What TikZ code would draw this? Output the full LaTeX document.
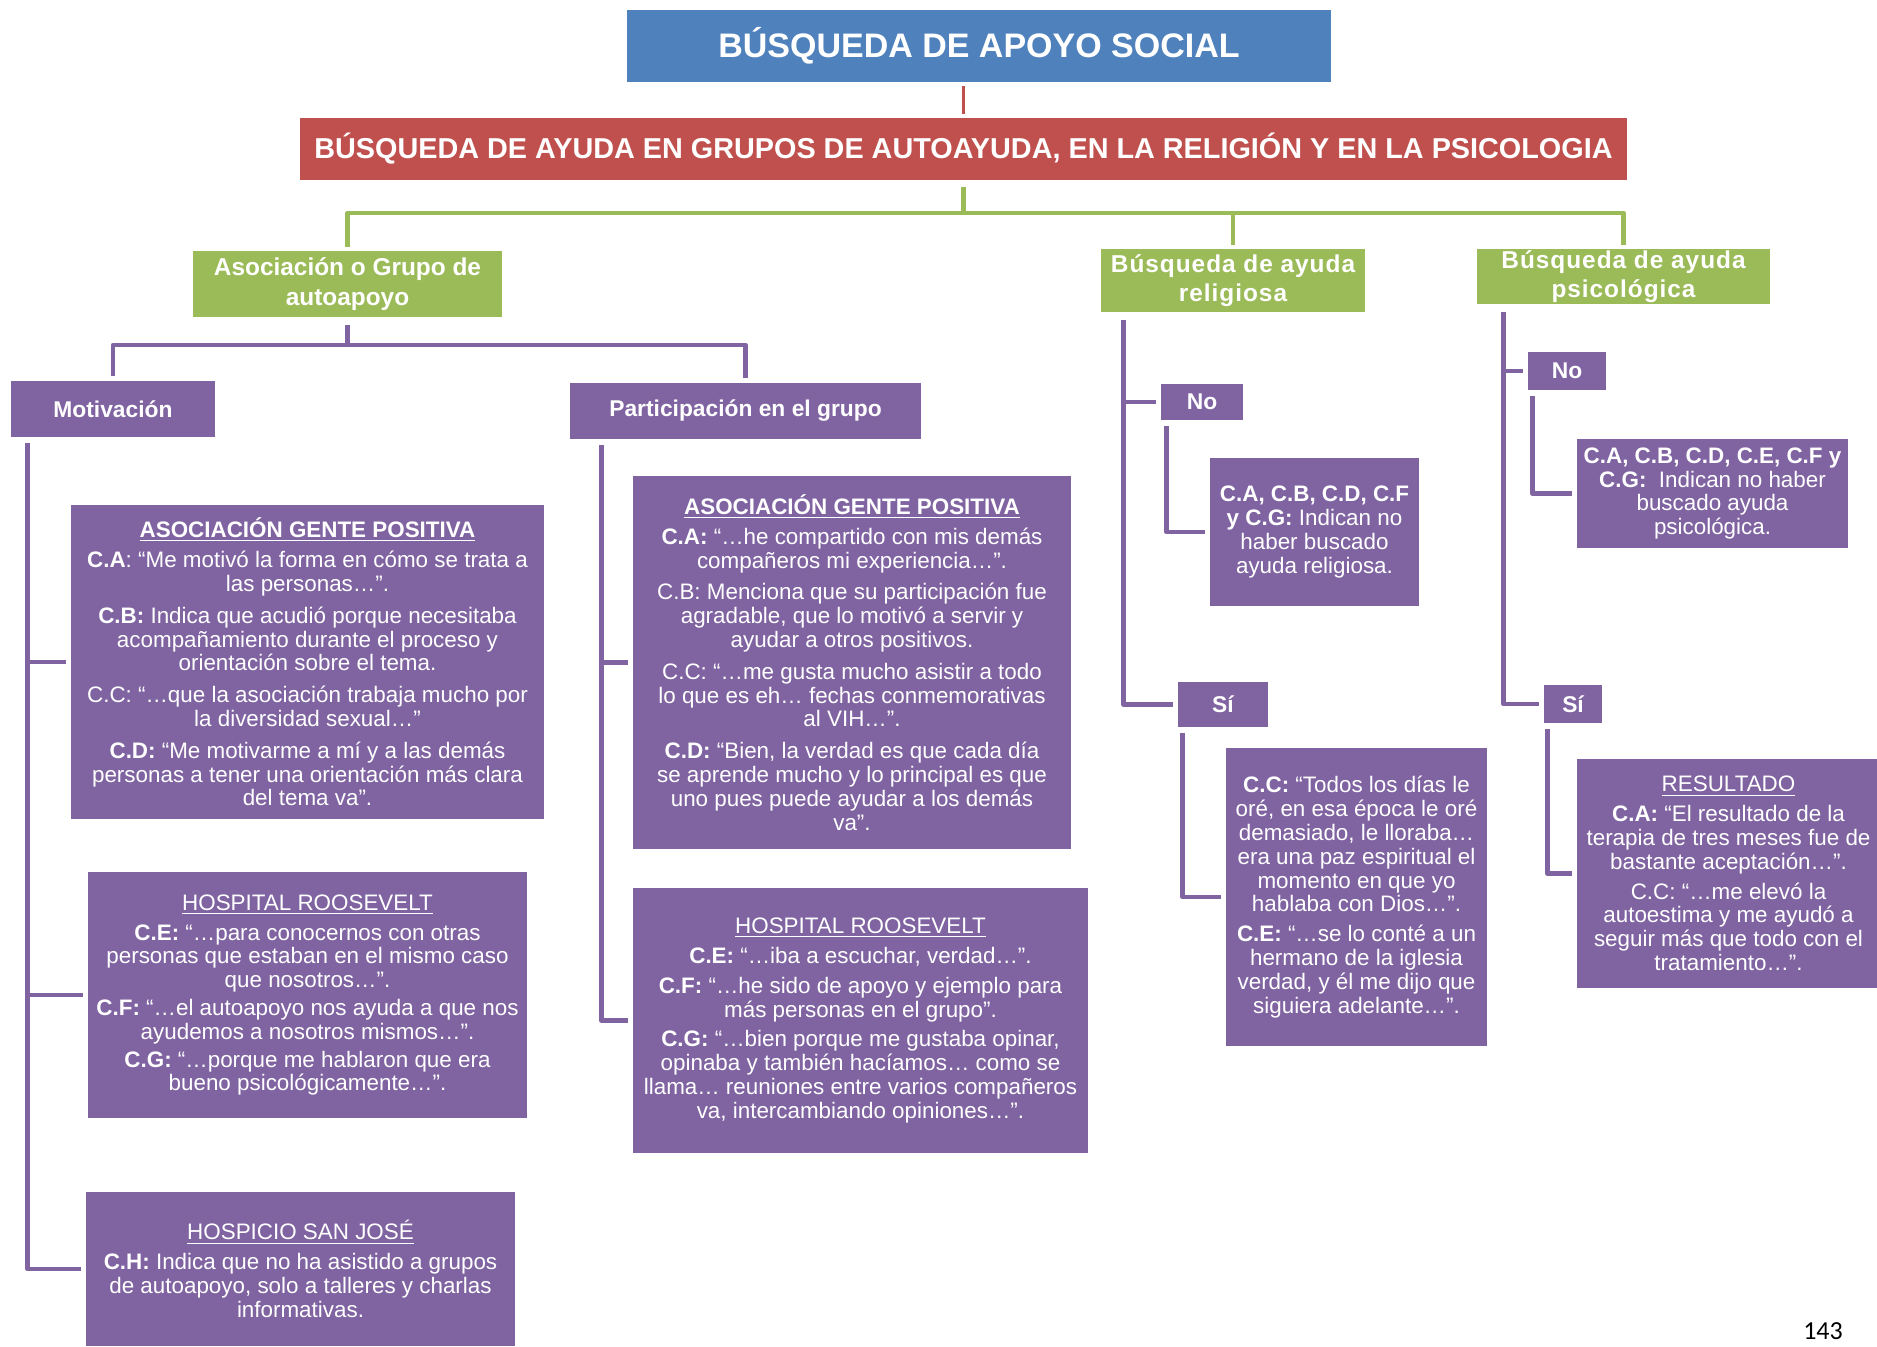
\documentclass[tikz,border=0pt]{standalone}
\usepackage{fontspec}
\setmainfont{Liberation Sans}
\newfontfamily\pagefont{Carlito}
\newfontfamily\spacedfont{Liberation Sans}[LetterSpace=4]
\usetikzlibrary{calc}

\definecolor{cblue}{HTML}{4F81BD}
\definecolor{cred}{HTML}{C0504D}
\definecolor{cgreen}{HTML}{9BBB59}
\definecolor{cpurple}{HTML}{8064A2}

\newcommand\bodyfont{\fontsize{11.2}{11.9}\selectfont}

\begin{document}
\begin{tikzpicture}[x=0.5pt,y=-0.5pt,
  base/.style={rectangle, inner sep=0pt, text=white, align=center},
  sized/.style 2 args={minimum width=#1*0.5pt, minimum height=#2*0.5pt},
  titlebox/.style={base, fill=cblue, font=\fontsize{17}{20}\selectfont\bfseries},
  redbox/.style={base, fill=cred, font=\fontsize{14.4}{17}\selectfont\bfseries},
  greenbox/.style={base, fill=cgreen, font=\fontsize{12.2}{14.8}\selectfont\bfseries},
  headbox/.style={base, fill=cpurple, font=\fontsize{11.4}{13}\selectfont\bfseries},
  txtbox/.style={base, fill=cpurple, font=\bodyfont},
  pline/.style={draw=cpurple, line width=2.4pt, line join=round, shorten >=2.5pt},
  gline/.style={draw=cgreen, line width=2.3pt, line join=round},
  rline/.style={draw=cred, line width=1.4pt},
]
\useasboundingbox (0,0) rectangle (1877,1346);

% top levels
\node[titlebox, sized={704}{72}] (title) at (979,46) {BÚSQUEDA DE APOYO SOCIAL};
\node[redbox, sized={1327}{62}] (red) at (963.5,149)
  {BÚSQUEDA DE AYUDA EN GRUPOS DE AUTOAYUDA, EN LA RELIGIÓN Y EN LA PSICOLOGIA};

\node[greenbox, sized={309}{66}] (g1) at (347.5,284) {Asociación o Grupo de\\autoapoyo};
\node[greenbox, sized={264}{63}] (g2) at (1233,280.5) {\spacedfont Búsqueda de ayuda\\\spacedfont religiosa};
\node[greenbox, sized={293}{55}] (g3) at (1623.5,276.5) {\spacedfont Búsqueda de ayuda\\\spacedfont psicológica};

% group branch
\node[headbox, sized={204}{56}] (mot) at (113,409) {Motivación};
\node[headbox, sized={351}{56}] (par) at (745.5,411) {Participación en el grupo};

\node[txtbox, sized={473}{314}] (asoc1) at (307.5,662) {%
{\bfseries\underline{ASOCIACIÓN GENTE POSITIVA}}\\[3pt]
{\bfseries C.A}: “Me motivó la forma en cómo se trata a\\
las personas…”.\\[4pt]
{\bfseries C.B:} Indica que acudió porque necesitaba\\
acompañamiento durante el proceso y\\
orientación sobre el tema.\\[4pt]
C.C: “…que la asociación trabaja mucho por\\
la diversidad sexual…”\\[4pt]
{\bfseries C.D:} “Me motivarme a mí y a las demás\\
personas a tener una orientación más clara\\
del tema va”.};

\node[txtbox, sized={439}{246}] (hosp1) at (307.5,995) {%
\underline{HOSPITAL ROOSEVELT}\\[3pt]
{\bfseries C.E:} “…para conocernos con otras\\
personas que estaban en el mismo caso\\
que nosotros…”.\\[2pt]
{\bfseries C.F:} “…el autoapoyo nos ayuda a que nos\\
ayudemos a nosotros mismos…”.\\[2pt]
{\bfseries C.G:} “…porque me hablaron que era\\
bueno psicológicamente…”.};

\node[txtbox, sized={429}{154}] (hospicio) at (300.5,1269) {%
\underline{HOSPICIO SAN JOSÉ}\\[3pt]
{\bfseries C.H:} Indica que no ha asistido a grupos\\
de autoapoyo, solo a talleres y charlas\\
informativas.};

\node[txtbox, sized={438}{373}] (asoc2) at (852,662.5) {%
{\bfseries\underline{ASOCIACIÓN GENTE POSITIVA}}\\[3pt]
{\bfseries C.A:} “…he compartido con mis demás\\
compañeros mi experiencia…”.\\[4pt]
C.B: Menciona que su participación fue\\
agradable, que lo motivó a servir y\\
ayudar a otros positivos.\\[4pt]
C.C: “…me gusta mucho asistir a todo\\
lo que es eh… fechas conmemorativas\\
al VIH…”.\\[4pt]
{\bfseries C.D:} “Bien, la verdad es que cada día\\
se aprende mucho y lo principal es que\\
uno pues puede ayudar a los demás\\
va”.};

\node[txtbox, sized={455}{265}] (hosp2) at (860.5,1020.5) {%
\underline{HOSPITAL ROOSEVELT}\\[3pt]
{\bfseries C.E:} “…iba a escuchar, verdad…”.\\[3pt]
{\bfseries C.F:} “…he sido de apoyo y ejemplo para\\
más personas en el grupo”.\\[3pt]
{\bfseries C.G:} “…bien porque me gustaba opinar,\\
opinaba y también hacíamos… como se\\
llama… reuniones entre varios compañeros\\
va, intercambiando opiniones…”.};

% religious help branch
\node[headbox, sized={82}{36}] (relno) at (1202,402) {No};
\node[txtbox, sized={209}{148}] (relnotxt) at (1314.5,532) {%
{\bfseries C.A, C.B, C.D, C.F}\\
{\bfseries y C.G:} Indican no\\
haber buscado\\
ayuda religiosa.};
\node[headbox, sized={90}{45}] (relsi) at (1223,704.5) {Sí};
\node[txtbox, sized={261}{298}] (relsitxt) at (1356.5,897) {%
{\bfseries C.C:} “Todos los días le\\
oré, en esa época le oré\\
demasiado, le lloraba…\\
era una paz espiritual el\\
momento en que yo\\
hablaba con Dios…”.\\[3pt]
{\bfseries C.E:} “…se lo conté a un\\
hermano de la iglesia\\
verdad, y él me dijo que\\
siguiera adelante…”.};

% psychological help branch
\node[headbox, sized={78}{38}] (psino) at (1567,371) {No};
\node[txtbox, sized={271}{109}] (psinotxt) at (1712.5,493.5) {%
{\bfseries C.A, C.B, C.D, C.E, C.F y}\\
{\bfseries C.G:}\ \ Indican no haber\\
buscado ayuda\\
psicológica.};
\node[headbox, sized={58}{38}] (psisi) at (1573,704) {Sí};
\node[txtbox, sized={303}{229}] (psisitxt) at (1728.5,873.5) {%
\underline{RESULTADO}\\[3pt]
{\bfseries C.A:} “El resultado de la\\
terapia de tres meses fue de\\
bastante aceptación…”.\\[3pt]
C.C: “…me elevó la\\
autoestima y me ayudó a\\
seguir más que todo con el\\
tratamiento…”.};

% connectors: root levels
\draw[rline, shorten <=2pt, shorten >=2pt] (title.south -| red.north) -- (red.north);
\coordinate (gbus) at (963.5,213);
\draw[gline, shorten <=3.5pt] (red.south) -- (gbus);
\draw[gline, shorten >=2pt] (gbus) -| (g1.north);
\draw[gline, shorten >=2pt] (gbus) -| (g2.north);
\draw[gline, shorten >=2pt] (gbus) -| (g3.north);

% connectors: group branch
\coordinate (abus) at (347.5,345);
\draw[pline, shorten <=4pt, shorten >=0pt] (g1.south) -- (abus);
\draw[pline] (abus) -| (mot.north);
\draw[pline] (abus) -| (par.north);
\draw[pline, shorten <=3pt] ($(mot.south west)+(17,0)$) |- (asoc1.west);
\draw[pline, shorten <=3pt] ($(mot.south west)+(17,0)$) |- (hosp1.west);
\draw[pline, shorten <=3pt] ($(mot.south west)+(17,0)$) |- (hospicio.west);
\draw[pline, shorten <=3pt] ($(par.south west)+(32,0)$) |- (asoc2.west);
\draw[pline, shorten <=3pt] ($(par.south west)+(32,0)$) |- (hosp2.west);

% connectors: religious branch
\draw[pline, shorten <=4pt] ($(g2.south west)+(23,0)$) |- (relno.west);
\draw[pline, shorten <=4pt] ($(g2.south west)+(23,0)$) |- (relsi.west);
\draw[pline, shorten <=3pt] ($(relno.south west)+(6,0)$) |- (relnotxt.west);
\draw[pline, shorten <=3pt] ($(relsi.south west)+(5,0)$) |- (relsitxt.west);

% connectors: psychological branch
\draw[pline, shorten <=4pt] ($(g3.south west)+(27,0)$) |- (psino.west);
\draw[pline, shorten <=4pt] ($(g3.south west)+(27,0)$) |- (psisi.west);
\draw[pline, shorten <=3pt] ($(psino.south west)+(5,0)$) |- (psinotxt.west);
\draw[pline, shorten <=3pt] ($(psisi.south west)+(4,0)$) |- (psisitxt.west);

% page number
\node[font=\pagefont\fontsize{13}{15}\selectfont] (pagenum) at (1823,1331) {143};
\end{tikzpicture}
\end{document}
